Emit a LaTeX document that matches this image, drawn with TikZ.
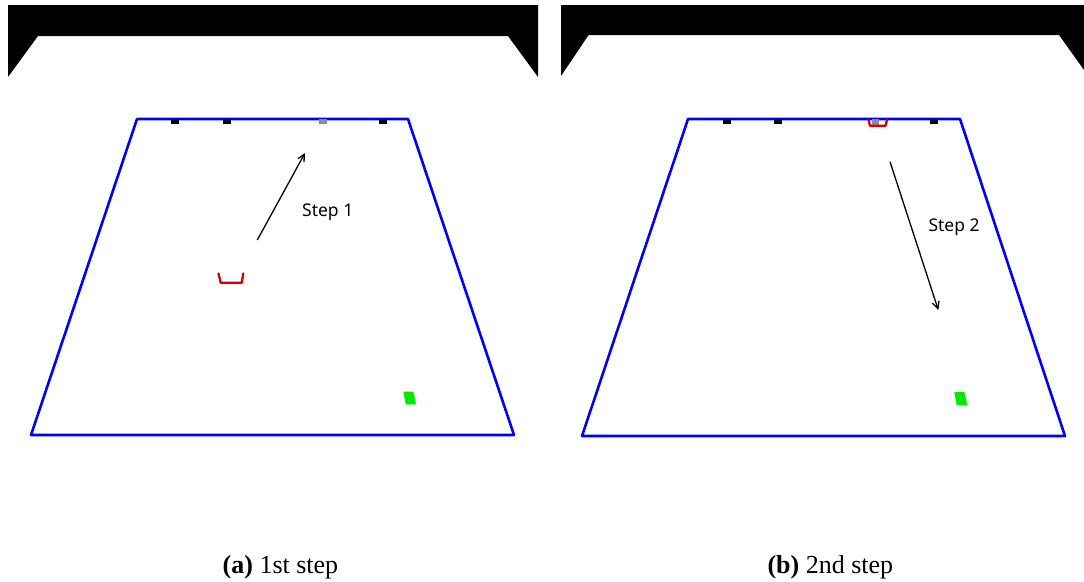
\documentclass[tikz,border=0pt]{standalone}
\usepackage{fontspec}
\setmainfont{Liberation Serif}
\newfontfamily\labelfont{Noto Sans}
\usetikzlibrary{arrows.meta}
\definecolor{fieldblue}{RGB}{0,0,255}
\definecolor{cupred}{RGB}{215,0,0}
\definecolor{goalgreen}{RGB}{0,235,0}
\definecolor{markgrey}{RGB}{140,140,140}
\tikzset{
  field/.style={draw=fieldblue, line width=2.6pt, line join=round},
  topbar/.style={fill=black, draw=none},
  pinmark/.style={fill=black, draw=none},
  greymark/.style={fill=markgrey, draw=none},
  cup/.style={draw=cupred, line width=2.3pt, line join=round, line cap=round},
  goal/.style={fill=goalgreen, draw=none},
  steparrow/.style={draw=black, line width=1.3pt, -{Straight Barb[length=7pt,width=7pt,line width=1.3pt]}},
  steplabel/.style={font=\labelfont\fontsize{17.5}{19}\selectfont, anchor=base west, inner sep=0pt},
  caption/.style={font=\fontsize{26}{29}\selectfont, anchor=base west, inner sep=0pt}
}
\begin{document}
\begin{tikzpicture}[x=1pt,y=-1pt]
\useasboundingbox (0,0) rectangle (1084,581);
% ---------- panel (a) ----------
\fill[topbar] (8,5) -- (538,5) -- (538,77) -- (508,36) -- (38,36) -- (8,77) -- cycle;
\draw[field] (137,119) -- (408,119) -- (514,435) -- (31,435) -- cycle;
\fill[pinmark] (171,119) rectangle (179,124);
\fill[pinmark] (223,119) rectangle (231,124);
\fill[greymark] (319,119) rectangle (327,124);
\fill[pinmark] (379,119) rectangle (387,124);
\draw[cup] (218.5,273.5) -- (220.7,282.7) -- (241.7,282.7) -- (243.3,273.5);
\fill[goal] (403.3,391.7) -- (413.3,391.7) -- (416,404.3) -- (405.7,404.3) -- cycle;
\coordinate (a1) at (257.3,240);
\coordinate (a2) at (305,153);
\draw[steparrow] (a1) -- (a2);
\node[steplabel] (s1) at (302,216) {Step 1};
\node[caption] (capa) at (222.5,573) {\textbf{(a)} 1st step};
% ---------- panel (b) ----------
\fill[topbar] (561,5) -- (1084,5) -- (1084,70) -- (1059,35) -- (588.6,35) -- (561,76) -- cycle;
\draw[field] (688,119) -- (960,119) -- (1065,436) -- (582,436) -- cycle;
\fill[pinmark] (723,119) rectangle (731,124);
\fill[pinmark] (774,119) rectangle (782,124);
\fill[greymark] (871.5,119) rectangle (878.5,124.5);
\fill[pinmark] (930,119) rectangle (938,124);
\draw[cup] (868.5,120) -- (870,125.7) -- (885.5,125.7) -- (887,120);
\fill[goal] (954.3,392) -- (964.3,392) -- (967.3,405) -- (956.7,405) -- cycle;
\coordinate (b1) at (890,161.7);
\coordinate (b2) at (938.3,310);
\draw[steparrow] (b1) -- (b2);
\node[steplabel] (s2) at (928.3,231.7) {Step 2};
\node[caption] (capb) at (767.3,573) {\textbf{(b)} 2nd step};
\end{tikzpicture}
\end{document}
